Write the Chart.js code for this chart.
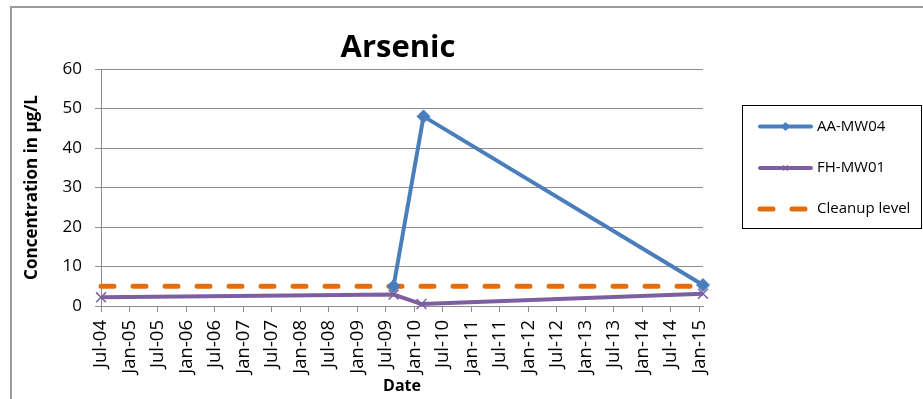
<!DOCTYPE html>
<html>
<head>
<meta charset="utf-8">
<title>Arsenic</title>
<script src="https://cdn.jsdelivr.net/npm/chart.js@4.4.1/dist/chart.umd.min.js"></script>
<style>
  html, body { margin: 0; padding: 0; background: #fff; overflow: hidden; }
  canvas { display: block; }
</style>
</head>
<body>
<canvas id="chart" width="923" height="399"></canvas>
<script>
// Sampling dates (YYYY-MM-DD) and arsenic concentrations in µg/L
const chartTitle = 'Arsenic';
const seriesNames = ['AA-MW04', 'FH-MW01', 'Cleanup level'];

const aaDates = ['2009-08-20', '2010-02-28', '2015-01-25'];
const aaValues = [5.0, 48.0, 5.3];

const fhDates = ['2004-07-01', '2009-08-20', '2010-02-15', '2015-01-25'];
const fhValues = [2.2, 2.9, 0.5, 3.1];

const cleanupDates = ['2004-07-01', '2015-01-25'];
const cleanupValues = [5, 5];

const tickDates = [
  '2004-07-01', '2005-01-01', '2005-07-01', '2006-01-01', '2006-07-01', '2007-01-01',
  '2007-07-01', '2008-01-01', '2008-07-01', '2009-01-01', '2009-07-01', '2010-01-01',
  '2010-07-01', '2011-01-01', '2011-07-01', '2012-01-01', '2012-07-01', '2013-01-01',
  '2013-07-01', '2014-01-01', '2014-07-01', '2015-01-01'
];
const tickLabels = [
  'Jul-04', 'Jan-05', 'Jul-05', 'Jan-06', 'Jul-06', 'Jan-07',
  'Jul-07', 'Jan-08', 'Jul-08', 'Jan-09', 'Jul-09', 'Jan-10',
  'Jul-10', 'Jan-11', 'Jul-11', 'Jan-12', 'Jul-12', 'Jan-13',
  'Jul-13', 'Jan-14', 'Jul-14', 'Jan-15'
];
const yTicks = [0, 10, 20, 30, 40, 50, 60];

const BLUE = '#4a7ebb';
const PURPLE = '#7d5fa0';
const ORANGE = '#e46c0a';
const GRID = '#8c8c8c';
const FONT = "'Open Sans', 'DejaVu Sans', sans-serif";

// date string -> UTC milliseconds, used as the x value
const toTime = s => Date.UTC(+s.slice(0, 4), +s.slice(5, 7) - 1, +s.slice(8, 10));
const pairs = (dates, values) => dates.map((d, i) => ({ x: toTime(d), y: values[i] }));

Chart.defaults.font.family = FONT;
Chart.defaults.color = '#000';

// Outer chart frame
const framePlugin = {
  id: 'frame',
  beforeDraw(chart) {
    const ctx = chart.ctx;
    ctx.save();
    ctx.fillStyle = '#fff';
    ctx.fillRect(0, 0, chart.width, chart.height);
    ctx.strokeStyle = '#9a9a9a';
    ctx.lineWidth = 2;
    ctx.strokeRect(11, 7, chart.width + 50, chart.height + 50);
    ctx.restore();
  }
};

// Chart title, centred over the plot area
const titlePlugin = {
  id: 'plotTitle',
  afterDraw(chart) {
    const { ctx, chartArea } = chart;
    ctx.save();
    ctx.font = "bold 31px " + FONT;
    ctx.fillStyle = '#000';
    ctx.textAlign = 'center';
    ctx.textBaseline = 'alphabetic';
    ctx.fillText(chartTitle, (chartArea.left + chartArea.right) / 2 - 4, 57);
    ctx.restore();
  }
};

// Boxed legend to the right of the plot
const legendPlugin = {
  id: 'boxLegend',
  afterDraw(chart) {
    const ctx = chart.ctx;
    const box = { x: 742.5, y: 105.5, w: 179, h: 123 };
    const rows = [126.5, 168, 209];
    const x0 = 760, x1 = 811, tx = 817;
    ctx.save();
    ctx.strokeStyle = '#000';
    ctx.lineWidth = 1;
    ctx.strokeRect(box.x, box.y, box.w, box.h);
    chart.data.datasets.forEach((ds, i) => {
      const y = rows[i];
      ctx.save();
      ctx.strokeStyle = ds.borderColor;
      ctx.lineWidth = ds.borderWidth;
      ctx.lineCap = 'round';
      ctx.setLineDash(ds.borderDash || []);
      ctx.beginPath();
      ctx.moveTo(x0, y);
      ctx.lineTo(x1, y);
      ctx.stroke();
      ctx.restore();
      if (ds.pointStyle && ds.pointRadius > 0) {
        ctx.save();
        ctx.fillStyle = ds.pointBackgroundColor;
        ctx.strokeStyle = ds.pointBorderColor;
        ctx.lineWidth = 1.5;
        Chart.helpers.drawPoint(ctx, {
          pointStyle: ds.pointStyle,
          radius: 3.5,
          rotation: 0,
          borderWidth: 1.5
        }, (x0 + x1) / 2, y);
        ctx.restore();
      }
      ctx.fillStyle = '#000';
      ctx.font = "15px " + FONT;
      ctx.textAlign = 'left';
      ctx.textBaseline = 'middle';
      ctx.fillText(ds.label, tx, y);
    });
    ctx.restore();
  }
};

const ctx = document.getElementById('chart').getContext('2d');
new Chart(ctx, {
  type: 'line',
  data: {
    datasets: [
      {
        label: seriesNames[0],
        data: pairs(aaDates, aaValues),
        borderColor: BLUE,
        backgroundColor: BLUE,
        borderWidth: 4,
        pointStyle: 'rectRot',
        pointRadius: 6.5,
        pointBorderWidth: 1,
        pointBackgroundColor: BLUE,
        pointBorderColor: BLUE,
        tension: 0,
        clip: false,
        order: 1
      },
      {
        label: seriesNames[1],
        data: pairs(fhDates, fhValues),
        borderColor: PURPLE,
        backgroundColor: PURPLE,
        borderWidth: 4,
        pointStyle: 'crossRot',
        pointRadius: 7,
        pointBorderWidth: 1.5,
        pointBackgroundColor: PURPLE,
        pointBorderColor: PURPLE,
        tension: 0,
        clip: false,
        order: 2
      },
      {
        label: seriesNames[2],
        data: pairs(cleanupDates, cleanupValues),
        borderColor: ORANGE,
        backgroundColor: ORANGE,
        borderWidth: 5,
        borderDash: [13, 19],
        borderCapStyle: 'round',
        pointRadius: 0,
        tension: 0,
        clip: false,
        order: 3
      }
    ]
  },
  options: {
    responsive: false,
    devicePixelRatio: 1,
    animation: false,
    events: [],
    layout: { padding: { top: 69, right: 220, bottom: 0, left: 0 } },
    plugins: {
      legend: { display: false },
      title: { display: false },
      tooltip: { enabled: false }
    },
    scales: {
      x: {
        type: 'linear',
        min: toTime(cleanupDates[0]),
        max: toTime(cleanupDates[cleanupDates.length - 1]),
        afterBuildTicks: axis => { axis.ticks = tickDates.map(d => ({ value: toTime(d) })); },
        afterFit: axis => { axis.height = 93; },
        grid: { drawOnChartArea: false, drawTicks: true, tickLength: 6, color: GRID, lineWidth: 1 },
        border: { display: true, color: GRID, width: 1 },
        ticks: {
          autoSkip: false,
          minRotation: 90,
          maxRotation: 90,
          padding: 8,
          font: { size: 18.5 },
          color: '#000',
          callback: (value, index) => tickLabels[index]
        },
        title: {
          display: true,
          text: 'Date',
          font: { size: 16, weight: 'bold' },
          color: '#000',
          padding: { top: 0, bottom: 3 }
        }
      },
      y: {
        min: 0,
        max: 60,
        afterBuildTicks: axis => { axis.ticks = yTicks.map(v => ({ value: v })); },
        afterFit: axis => { axis.width = 101; },
        grid: { drawOnChartArea: true, drawTicks: true, tickLength: 6, color: GRID, lineWidth: 1 },
        border: { display: true, color: GRID, width: 1 },
        ticks: {
          padding: 13,
          font: { size: 17 },
          color: '#000'
        },
        title: {
          display: true,
          text: 'Concentration in µg/L',
          font: { size: 17, weight: 'bold' },
          color: '#000',
          padding: { top: 22, bottom: 0 }
        }
      }
    }
  },
  plugins: [framePlugin, titlePlugin, legendPlugin]
});
</script>
</body>
</html>
